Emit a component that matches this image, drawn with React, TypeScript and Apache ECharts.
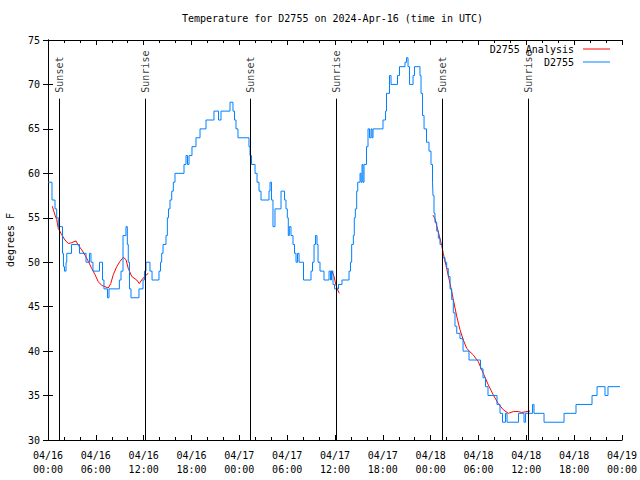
import React, { useEffect, useRef } from 'react';
import * as echarts from 'echarts';

// hours since 2024-04-16 00:00 UTC
const obsTime = [
  0.0, 0.5, 0.88, 1.09, 1.29, 1.82, 1.94, 2.07, 2.26, 2.35, 2.95, 3.95, 4.77, 5.21, 5.39, 5.64,
  6.46, 6.84, 7.02, 7.46, 7.65, 8.95, 9.16, 9.41, 9.78, 9.95, 10.07, 10.22, 10.41, 11.41, 11.92,
  12.1, 12.29, 12.79, 13.05, 13.92, 14.11, 14.26, 14.43, 14.8, 14.97, 15.12, 15.3, 15.52, 15.72,
  15.93, 17.06, 17.31, 17.5, 17.69, 18.06, 18.56, 19.07, 19.82, 20.82, 21.39, 21.7, 22.83, 23.2,
  23.39, 23.58, 23.83, 25.21, 25.34, 25.53, 25.97, 26.22, 26.47, 26.72, 27.72, 27.85, 28.03, 28.22,
  28.47, 29.23, 29.67, 29.85, 30.02, 30.14, 30.27, 30.48, 30.73, 30.92, 31.11, 31.3, 31.49, 32.05,
  32.99, 33.18, 33.37, 33.56, 33.74, 33.87, 34.12, 34.62, 35.25, 35.44, 35.56, 35.75, 35.94, 36.44,
  36.88, 37.76, 37.94, 38.09, 38.3, 38.42, 38.55, 38.72, 38.85, 39.14, 39.26, 39.39, 39.51, 39.64,
  39.95, 40.14, 40.33, 40.52, 40.64, 40.77, 42.02, 42.34, 42.46, 42.84, 43.03, 43.84, 44.09, 44.78,
  44.97, 45.16, 45.35, 45.79, 45.97, 46.66, 46.79, 46.98, 47.17, 47.48, 47.79, 48.04, 48.23, 48.29,
  48.42, 48.54, 48.76, 48.96, 49.17, 49.49, 49.8, 50.01, 50.21, 50.43, 50.64, 50.84, 51.05, 51.27,
  51.68, 52.06, 52.81, 54.25, 54.57, 54.88, 55.19, 56.32, 56.7, 57.01, 57.39, 57.58, 59.02, 59.71,
  59.9, 60.78, 60.96, 62.22, 64.73, 66.23, 68.24, 68.87, 69.87, 70.24, 71.75,
];
const obsTemp = [
  59, 57, 56, 55, 54, 51, 49.5, 49, 50, 51, 52, 51, 50, 51, 50, 49,
  50, 48, 47, 46, 47, 48, 49, 53, 54, 52, 50, 47, 46, 47, 48,
  49, 50, 49, 48, 49, 50, 51, 52, 53, 55, 56, 57, 58, 59,
  60, 61, 62, 61, 62, 63, 64, 65, 66, 67, 66, 67, 68, 67,
  66, 65, 64, 63, 62, 61, 60, 59, 58, 57, 58, 59, 57, 54,
  56, 58, 57, 56, 55, 53, 54, 53, 52, 51, 50, 51, 50, 48,
  49, 50, 52, 53, 52, 50, 49, 48, 49, 48, 49, 47.5, 47, 47.5,
  48, 49, 50, 52, 53, 55, 56, 58, 59, 60, 59, 61, 59, 61,
  63, 65, 64, 65, 64, 65, 66, 67, 69, 71, 70, 71, 72, 72.5,
  73, 72, 70, 71, 72, 71, 69, 66.5, 65, 63.5, 62.5, 61, 59, 57.5,
  55.5, 54.5, 53.5, 52.7, 52, 50.5, 50, 49.3, 48.4, 47, 45.8, 44.3, 42.8, 42,
  41.4, 40, 39, 38, 37, 36, 35, 34, 33, 32, 33, 32, 33, 32,
  33, 34, 33, 32, 33, 34, 35, 36, 35, 36, 36,
];

// analysis: null marks a gap between segments
const anaTime = [
  0.54, 0.88, 1.09, 1.29, 1.72, 2.13, 2.55, 2.97, 3.51, 3.8, 4.23, 4.64, 5.06, 5.48, 5.9, 6.31,
  6.74, 7.15, 7.56, 7.87, 8.19, 8.62, 9.03, 9.45, 9.78, 10.07, 10.5, 11.13, 11.45, 11.75, 12.17, 12.58,
  20,
  35.59, 35.88, 36.13, 36.29, 36.54,
  42,
  48.29, 48.54, 48.96, 49.38, 49.58, 50.01, 50.43, 50.84, 51.27, 51.68, 52.1, 52.52, 53.35, 53.98,
  54.6, 55.23, 55.86, 56.48, 57.11, 57.74, 58.37, 58.99, 59.42, 60.46,
];
const anaTemp: (number | null)[] = [
  56.3, 55.3, 54.8, 53.8, 53.1, 52.5, 52.1, 52.2, 52.4, 51.9, 51.4, 50.8, 50.1, 49.3, 48.6, 47.8,
  47.4, 47.25, 47.1, 47.6, 48.6, 49.5, 50.1, 50.55, 50.3, 49.3, 48.4, 48.0, 47.6, 48.0, 48.45, 48.75,
  null,
  49.05, 48.4, 47.4, 47.0, 46.5,
  null,
  55.3, 54.9, 53.4, 51.9, 51.0, 49.3, 47.6, 45.8, 43.9, 42.4, 41.25, 40.3, 39.56, 38.8,
  37.5, 36.2, 35.06, 34.1, 33.4, 33.0, 33.2, 33.2, 33.1, 33.25,
];

const sunTime = [1.42, 12.21, 25.42, 36.2, 49.46, 60.25];
const sunLabel = ['Sunset', 'Sunrise', 'Sunset', 'Sunrise', 'Sunset', 'Sunrise'];
const sunTop = 68.4;

const FONT = 'DejaVu Sans Mono';

function xLabel(v: number): string {
  const day = 16 + Math.floor(v / 24);
  const hr = Math.round(v % 24);
  return '04/' + day + '\n' + String(hr).padStart(2, '0') + ':00';
}

export default function App() {
  const ref = useRef<HTMLDivElement>(null);
  useEffect(() => {
    document.body.style.margin = '0';
    if (!ref.current) return;
    const chart = echarts.init(ref.current, null, { renderer: 'svg' });
    const txt = { fontFamily: FONT, fontSize: 10, color: '#000' };
    const legendBase = {
      orient: 'vertical',
      align: 'right',
      right: 30,
      icon: 'rect',
      itemWidth: 27,
      itemHeight: 1,
      padding: 0,
      itemGap: 0,
      selectedMode: false,
      textStyle: { ...txt, padding: [0, 4, 0, 0] },
    };
    const xBase = {
      type: 'value',
      min: 0,
      max: 72,
      interval: 6,
      axisLine: { show: true, lineStyle: { color: '#000', width: 1 } },
      axisTick: { show: true, inside: true, length: 5, lineStyle: { color: '#000' } },
      minorTick: { show: true, splitNumber: 3, length: 3, lineStyle: { color: '#000' } },
      splitLine: { show: false },
    };
    const yBase = {
      type: 'value',
      min: 30,
      max: 75,
      interval: 5,
      axisLine: { show: true, lineStyle: { color: '#000', width: 1 } },
      axisTick: { show: true, inside: true, length: 5, lineStyle: { color: '#000' } },
      splitLine: { show: false },
    };
    chart.setOption({
      animation: false,
      backgroundColor: '#fff',
      title: {
        text: 'Temperature for D2755 on 2024-Apr-16 (time in UTC)',
        left: 182,
        top: 13,
        padding: 0,
        textStyle: { ...txt, fontWeight: 'normal' },
      },
      legend: [
        { ...legendBase, top: 44, data: ['D2755 Analysis'] },
        { ...legendBase, top: 57, data: ['D2755'] },
      ],
      grid: { left: 48, right: 18, top: 40, bottom: 40, containLabel: false, outerBoundsMode: 'none' },
      xAxis: [
        {
          ...xBase,
          position: 'bottom',
          axisLabel: { ...txt, margin: 8, lineHeight: 14, formatter: xLabel },
        },
        { ...xBase, position: 'top', axisLabel: { show: false } },
      ],
      yAxis: [
        {
          ...yBase,
          position: 'left',
          name: 'degrees F',
          nameLocation: 'middle',
          nameGap: 33,
          nameTextStyle: txt,
          axisLabel: { ...txt, margin: 8 },
        },
        { ...yBase, position: 'right', axisLabel: { show: false } },
      ],
      series: [
        {
          name: 'sun',
          type: 'line',
          data: [],
          z: 1,
          silent: true,
          markLine: {
            silent: true,
            symbol: 'none',
            animation: false,
            label: { show: false },
            lineStyle: { color: '#000', width: 1, type: 'solid' },
            data: sunTime.map((t) => [{ coord: [t, 30] }, { coord: [t, sunTop] }]),
          },
        },
        {
          name: 'sunLabels',
          type: 'scatter',
          symbolSize: 0,
          silent: true,
          z: 1,
          data: sunTime.map((t, i) => ({ value: [t, sunTop], name: sunLabel[i] })),
          label: {
            show: true,
            formatter: '{b}',
            position: 'top',
            distance: 6,
            rotate: 90,
            align: 'left',
            verticalAlign: 'middle',
            ...txt,
          },
        },
        {
          name: 'D2755 Analysis',
          type: 'line',
          z: 2,
          showSymbol: false,
          symbol: 'none',
          color: '#ff0000',
          lineStyle: { color: '#ff0000', width: 1 },
          data: anaTime.map((t, i) => [t, anaTemp[i] === null ? '-' : anaTemp[i]]),
        },
        {
          name: 'D2755',
          type: 'line',
          z: 3,
          step: 'end',
          showSymbol: false,
          symbol: 'none',
          color: '#0080ff',
          lineStyle: { color: '#0080ff', width: 1 },
          data: obsTime.map((t, i) => [t, obsTemp[i]]),
        },
      ],
    });
    return () => chart.dispose();
  }, []);
  return <div ref={ref} style={{ width: 640, height: 480 }} />;
}
